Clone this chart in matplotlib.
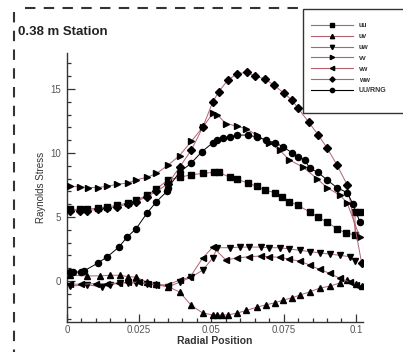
import matplotlib
matplotlib.use("Agg")
import matplotlib.pyplot as plt
from matplotlib.lines import Line2D
from matplotlib.patches import Rectangle
from matplotlib.ticker import MultipleLocator

plt.rcParams['font.family'] = ['Liberation Sans', 'DejaVu Sans']

# Reynolds stress components across the radius, 0.38 m station
uu_x = [0.001, 0.0045, 0.007, 0.0107, 0.0138, 0.0173, 0.021, 0.024, 0.0277, 0.031, 0.035, 0.039,
        0.043, 0.047, 0.051, 0.0525, 0.0564, 0.059, 0.0626, 0.0657, 0.0685, 0.072, 0.0744, 0.077,
        0.080, 0.084, 0.0868, 0.090, 0.0934, 0.0965, 0.0997, 0.0997, 0.1014]
uu_y = [5.6, 5.6, 5.6, 5.7, 5.8, 5.9, 6.1, 6.3, 6.7, 7.2, 7.9, 8.1,
        8.3, 8.4, 8.5, 8.5, 8.1, 7.95, 7.65, 7.4, 7.1, 6.9, 6.6, 6.2,
        5.9, 5.4, 5.0, 4.6, 4.1, 3.75, 3.6, 5.4, 5.4]

uv_x = [0.001, 0.007, 0.0114, 0.0149, 0.0183, 0.0211, 0.024, 0.0277, 0.031, 0.035, 0.039, 0.043,
        0.047, 0.0505, 0.052, 0.0535, 0.0557, 0.059, 0.062, 0.0657, 0.069, 0.072, 0.0747, 0.078,
        0.0806, 0.084, 0.0875, 0.091, 0.0945, 0.097, 0.100, 0.102]
uv_y = [0.45, 0.4, 0.4, 0.45, 0.45, 0.35, 0.3, -0.1, -0.2, -0.45, -0.85, -1.9,
        -2.5, -2.65, -2.65, -2.65, -2.65, -2.5, -2.3, -2.05, -1.85, -1.7, -1.5, -1.3,
        -1.1, -0.85, -0.55, -0.4, -0.15, 0.1, -0.2, -0.4]

uw_x = [0.001, 0.007, 0.0121, 0.0149, 0.0183, 0.021, 0.024, 0.0277, 0.031, 0.035, 0.039, 0.043,
        0.047, 0.0505, 0.052, 0.0564, 0.060, 0.063, 0.067, 0.070, 0.0737, 0.077, 0.0806, 0.084,
        0.0875, 0.091, 0.0945, 0.098, 0.0997]
uw_y = [-0.4, -0.3, -0.45, -0.3, -0.15, -0.15, -0.15, -0.2, -0.3, -0.45, -0.1, 0.3,
        0.85, 1.8, 2.6, 2.6, 2.65, 2.65, 2.65, 2.6, 2.6, 2.5, 2.4, 2.3,
        2.2, 2.1, 2.0, 1.9, 1.6]

vv_x = [0.001, 0.0045, 0.0073, 0.0107, 0.0138, 0.0173, 0.021, 0.024, 0.0277, 0.031, 0.035, 0.039,
        0.043, 0.047, 0.0505, 0.052, 0.055, 0.0588, 0.062, 0.0657, 0.070, 0.0737, 0.077, 0.0817,
        0.0865, 0.090, 0.0945, 0.097, 0.1014]
vv_y = [7.4, 7.35, 7.3, 7.3, 7.4, 7.55, 7.65, 7.9, 8.1, 8.4, 9.05, 9.8,
        10.9, 12.0, 13.1, 13.0, 12.3, 12.1, 11.9, 11.4, 10.8, 10.2, 9.45, 8.9,
        8.0, 7.3, 6.7, 6.1, 3.4]

vw_x = [0.001, 0.005, 0.010, 0.014, 0.018, 0.021, 0.025, 0.028, 0.031, 0.035, 0.039, 0.0426,
        0.047, 0.0505, 0.055, 0.059, 0.063, 0.067, 0.070, 0.0737, 0.077, 0.0806, 0.084, 0.0875,
        0.091, 0.0945, 0.098, 0.100, 0.102]
vw_y = [-0.25, -0.25, -0.2, -0.2, -0.15, -0.1, -0.1, -0.2, -0.3, -0.3, 0.08, 0.3,
        1.8, 2.65, 1.65, 1.8, 1.9, 1.95, 1.9, 1.85, 1.7, 1.55, 1.25, 0.9,
        0.6, 0.2, -0.1, -0.3, -0.4]

ww_x = [0.001, 0.0045, 0.007, 0.0107, 0.014, 0.0173, 0.021, 0.024, 0.0277, 0.031, 0.035, 0.039,
        0.043, 0.047, 0.0505, 0.0526, 0.0557, 0.059, 0.0623, 0.065, 0.0685, 0.0716, 0.075, 0.078,
        0.080, 0.0837, 0.087, 0.090, 0.0934, 0.097, 0.102]
ww_y = [5.5, 5.5, 5.5, 5.6, 5.7, 5.8, 6.0, 6.2, 6.6, 7.0, 7.6, 8.9,
        10.2, 12.0, 14.0, 14.8, 15.7, 16.2, 16.3, 16.0, 15.8, 15.3, 14.7, 14.1,
        13.5, 12.4, 11.4, 10.4, 9.1, 7.5, 1.4]

rng_x = [0.001, 0.002, 0.005, 0.006, 0.0107, 0.014, 0.018, 0.0207, 0.024, 0.0277, 0.031, 0.0346,
         0.035, 0.039, 0.043, 0.0467, 0.0505, 0.052, 0.054, 0.0564, 0.059, 0.0626, 0.0657, 0.069,
         0.072, 0.0747, 0.078, 0.080, 0.0824, 0.084, 0.0868, 0.090, 0.0934, 0.097, 0.099, 0.1014]
rng_y = [0.7, 0.7, 0.7, 0.8, 1.4, 1.9, 2.65, 3.4, 4.1, 5.3, 6.2, 7.0,
         7.3, 8.5, 9.2, 10.1, 10.8, 11.0, 11.2, 11.25, 11.4, 11.4, 11.25, 11.0,
         10.8, 10.5, 10.0, 9.7, 9.45, 8.8, 8.5, 7.9, 7.3, 6.9, 6.0, 4.6]

series = [
    ("uu", uu_x, uu_y, "s"),
    ("uv", uv_x, uv_y, "^"),
    ("uw", uw_x, uw_y, "v"),
    ("vv", vv_x, vv_y, ">"),
    ("vw", vw_x, vw_y, "<"),
    ("ww", ww_x, ww_y, "D"),
    ("UU/RNG", rng_x, rng_y, "o"),
]

pink = "#b5606e"
fig = plt.figure(figsize=(4.03, 3.58), dpi=100)
ax = fig.add_axes([0.166, 0.1006, 0.735, 0.751])

handles = []
for name, xs, ys, mk in series:
    col = "black" if name == "UU/RNG" else pink
    ms = 3.8 if mk == "D" else 4.4
    ax.plot(xs, ys, color=col, lw=0.7, marker=mk, ms=ms, mfc="black", mec="black", zorder=3)
    handles.append(Line2D([], [], color=col, lw=0.8, marker=mk, ms=ms * 0.7,
                          mfc="black", mec="black"))

ax.set_xlim(0, 0.1025)
ax.set_ylim(-3.2, 17.8)
ax.xaxis.set_minor_locator(MultipleLocator(0.005))
ax.yaxis.set_major_locator(MultipleLocator(5))
ax.yaxis.set_minor_locator(MultipleLocator(1))
ax.set_xticks([0, 0.025, 0.05, 0.075, 0.1])
ax.set_xticklabels(["0", "0.025", "0.05", "0.075", "0.1"])
ax.tick_params(which="both", direction="in", colors="#333333", labelcolor="#555555", labelsize=7, width=0.9)
ax.tick_params(which="major", length=6)
ax.tick_params(which="minor", length=3)
ax.tick_params(axis="y", pad=4)
ax.tick_params(axis="x", pad=2)
for s in ["top", "right"]:
    ax.spines[s].set_visible(False)
for s in ["left", "bottom"]:
    ax.spines[s].set_color("#333333")
    ax.spines[s].set_linewidth(1.0)

ax.set_xlabel("Radial Position", fontsize=7.5, fontweight="bold", color="#333333", labelpad=1)
ax.set_ylabel("Raynolds Stress", fontsize=7, color="#333333", labelpad=3)

fig.text(18 / 403, 1 - 32 / 358, "0.38 m Station", fontsize=9.5, fontweight="bold",
         color="#222222", va="center", ha="left")

# dashed page frame
fig.add_artist(Line2D([25 / 403, 303 / 403], [1 - 8 / 358] * 2, transform=fig.transFigure,
                      color="#333333", lw=1.5, ls=(0, (5, 4))))
fig.add_artist(Line2D([14 / 403] * 2, [1 - 12 / 358, 1 - 352 / 358], transform=fig.transFigure,
                      color="#333333", lw=1.5, ls=(0, (5, 4))))

# legend box
fig.add_artist(Rectangle((303 / 403, 1 - 113 / 358), 0.3, 104 / 358, transform=fig.transFigure,
                         fill=True, facecolor="white", edgecolor="#333333", lw=1.0, zorder=5))
leg = fig.legend(handles, [s[0] for s in series], loc="upper left",
                 bbox_to_anchor=(308 / 403, 1 - 19 / 358), frameon=False, fontsize=5,
                 handlelength=6.0, handletextpad=0.8, labelspacing=0.55, borderpad=0)
leg.set_zorder(6)
for t in leg.get_texts():
    t.set_fontweight("bold")
    t.set_color("#333333")

fig.savefig("out.png", dpi=100)
